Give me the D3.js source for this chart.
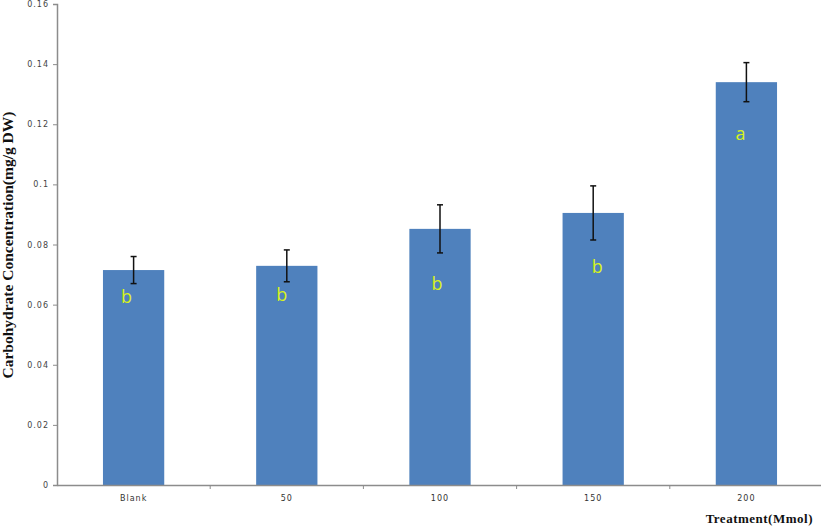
<!DOCTYPE html>
<html><head><meta charset="utf-8">
<script src="https://cdn.jsdelivr.net/npm/d3@7"></script>
<style>body{margin:0;background:#fff}svg{display:block}</style>
</head><body>
<svg id="c" width="821" height="526"></svg>
<script>
const categories = ["Blank","50","100","150","200"];
const values = [0.0715, 0.0729, 0.0852, 0.0905, 0.134];
const errors = [0.0045, 0.0053, 0.0080, 0.0090, 0.0065];
const letters = ["b","b","b","b","a"];
const yTicks = [0,0.02,0.04,0.06,0.08,0.1,0.12,0.14,0.16];

(function(){
const svg = d3.select("#c");
const mL = 57, mR = 823, mT = 4, mB = 485;
const x = d3.scaleBand().domain(categories).range([mL,mR]).paddingInner(0.6).paddingOuter(0.3);
const xb = d3.scaleBand().domain(categories).range([mL,mR]);
const y = d3.scaleLinear().domain([0,0.16]).range([mB,mT]);
// label placement offsets (px) relative to bar top-centre
const letterDx = [-7,-5,-3,4,-6];
const letterDy = [28,30,56,55,53];

svg.selectAll("rect.bar").data(categories).join("rect")
  .attr("x", d=>x(d)).attr("width", x.bandwidth())
  .attr("y", (d,i)=>y(values[i])).attr("height",(d,i)=>y(0)-y(values[i]))
  .attr("fill","#4f81bd");

const eg = svg.append("g").attr("stroke","#111").attr("stroke-width",1.5);
categories.forEach((c,i)=>{
  const cx = x(c)+x.bandwidth()/2;
  eg.append("line").attr("x1",cx).attr("x2",cx).attr("y1",y(values[i]+errors[i])).attr("y2",y(values[i]-errors[i]));
  eg.append("line").attr("x1",cx-3).attr("x2",cx+3).attr("y1",y(values[i]+errors[i])).attr("y2",y(values[i]+errors[i]));
  eg.append("line").attr("x1",cx-3).attr("x2",cx+3).attr("y1",y(values[i]-errors[i])).attr("y2",y(values[i]-errors[i]));
});

svg.selectAll("text.let").data(categories).join("text")
  .attr("x", (d,i)=>x(d)+x.bandwidth()/2+letterDx[i])
  .attr("y", (d,i)=>y(values[i])+letterDy[i])
  .attr("text-anchor","middle").attr("dominant-baseline","middle")
  .attr("font-family","Open Sans, sans-serif").attr("font-size",18)
  .attr("fill","#d7f21c").text((d,i)=>letters[i]);

const ya = svg.append("g").attr("transform",`translate(${mL},0)`)
  .call(d3.axisLeft(y).tickValues(yTicks).tickSize(4).tickPadding(4).tickFormat(d=>String(+d.toFixed(2))));
ya.select(".domain").attr("stroke","#8c8c8c").attr("stroke-width",1.5);
ya.selectAll(".tick line").attr("stroke","#8c8c8c");
ya.selectAll("text").attr("font-family","DejaVu Sans, sans-serif").attr("font-size",8).attr("fill","#444").attr("letter-spacing",1);

const xa = svg.append("g").attr("transform",`translate(0,${mB})`)
  .call(d3.axisBottom(xb).tickSize(0).tickPadding(10));
xa.select(".domain").attr("stroke","#8c8c8c").attr("stroke-width",1.5);
xa.selectAll("text").attr("font-family","DejaVu Sans, sans-serif").attr("font-size",8).attr("fill","#333").attr("letter-spacing",1);
const bnd = categories.map(c=>xb(c)+xb.bandwidth());
svg.append("g").selectAll("line").data(bnd).join("line")
  .attr("x1",d=>d).attr("x2",d=>d).attr("y1",mB).attr("y2",mB+4)
  .attr("stroke","#8c8c8c");

svg.append("text").attr("transform","translate(13,245) rotate(-90)")
  .attr("text-anchor","middle").attr("font-family","Liberation Serif, serif")
  .attr("font-weight","bold").attr("font-size",15.5).attr("fill","#111")
  .text("Carbohydrate Concentration(mg/g DW)");
svg.append("text").attr("x",813).attr("y",523).attr("text-anchor","end")
  .attr("font-family","Liberation Serif, serif").attr("font-weight","bold")
  .attr("font-size",13).attr("letter-spacing",0.5).attr("fill","#111").text("Treatment(Mmol)");
})();
</script>
</body></html>
